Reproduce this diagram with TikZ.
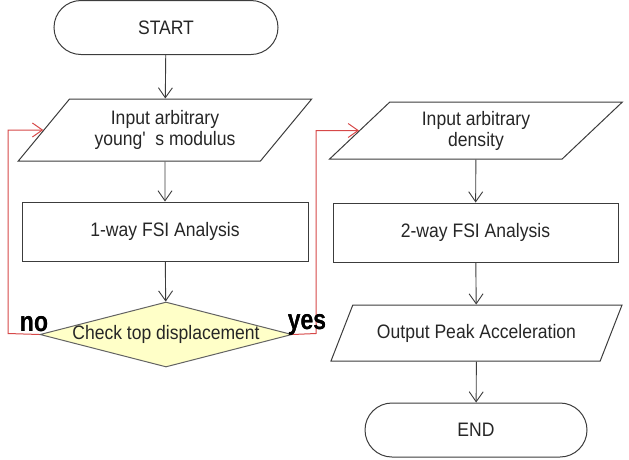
\documentclass[tikz,border=0pt]{standalone}
\usepackage{fontspec}
\setmainfont{Liberation Sans}
\newfontfamily\narrowfont[FakeStretch=0.9]{Liberation Sans}
\newfontfamily\labfont[FakeStretch=0.82]{Liberation Sans}
\usetikzlibrary{shapes.geometric,arrows.meta}
\definecolor{edge}{RGB}{60,60,60}
\definecolor{loopred}{RGB}{214,72,72}
\definecolor{dfill}{RGB}{255,255,200}
\begin{document}
\begin{tikzpicture}[x=1pt,y=-1pt,
  every node/.style={font=\narrowfont\fontsize{19.5}{21}\selectfont, text=black!85, inner sep=0pt, align=center},
  term/.style={draw=edge, line width=1pt, rounded corners=27pt, minimum width=224pt, minimum height=54pt},
  io/.style={draw=edge, line width=1pt, trapezium, trapezium left angle=46, trapezium right angle=134, trapezium stretches=true},
  proc/.style={draw=edge, line width=1pt, rectangle},
  dec/.style={draw=edge!80, line width=1pt, diamond, fill=dfill, minimum width=252pt, minimum height=65pt},
  flow/.style={draw=edge, line width=0.9pt, -{Straight Barb[length=10pt,width=14pt,line width=0.9pt]}},
  back/.style={draw=loopred, line width=1pt, -{Straight Barb[length=10pt,width=14pt,line width=1pt]}},
  lab/.style={font=\labfont\bfseries\fontsize{28}{30}\selectfont, text=black}]
\useasboundingbox (0,0) rectangle (629,459);
\node[term] (start) at (166,27.5) {START};
\node[io, minimum width=294pt, minimum height=62pt] (p1) at (165,130) {Input arbitrary\\[0pt]young'\enspace s modulus};
\node[proc, minimum width=286pt, minimum height=59pt] (b1) at (165,231.5) {1-way FSI Analysis};
\node[dec] (d) at (166,334.5) {\makebox[0pt]{Check top displacement}};
\node[io, minimum width=293pt, minimum height=57pt] (p2) at (476,130.5) {Input arbitrary\\[0pt]density};
\node[proc, minimum width=285pt, minimum height=59pt] (b2) at (475.5,232.5) {2-way FSI Analysis};
\node[io, minimum width=292pt, minimum height=56pt] (p3) at (476.5,333) {Output Peak Acceleration};
\node[term, minimum width=222pt] (end) at (476,430) {END};
\node[lab, anchor=base] (no) at (34,331) {no};
\node[lab, anchor=base] (yes) at (307,329) {yes};
\coordinate (nocorner) at (8,333.5);
\coordinate (yescorner) at (316,333.5);
\draw[flow] (start) -- (p1);
\draw[flow] (p1) -- (b1);
\draw[flow] (b1) -- (d);
\draw[flow] (p2) -- (b2);
\draw[flow] (b2) -- (p3);
\draw[flow] (p3) -- (end);
\draw[back] (d.west) -- (nocorner) |- (p1.west);
\draw[back] (d.east) -- (yescorner) |- (p2.west);
\node[lab, anchor=base] at (no.base) {no};
\node[lab, anchor=base] at (yes.base) {yes};
\end{tikzpicture}
\end{document}
